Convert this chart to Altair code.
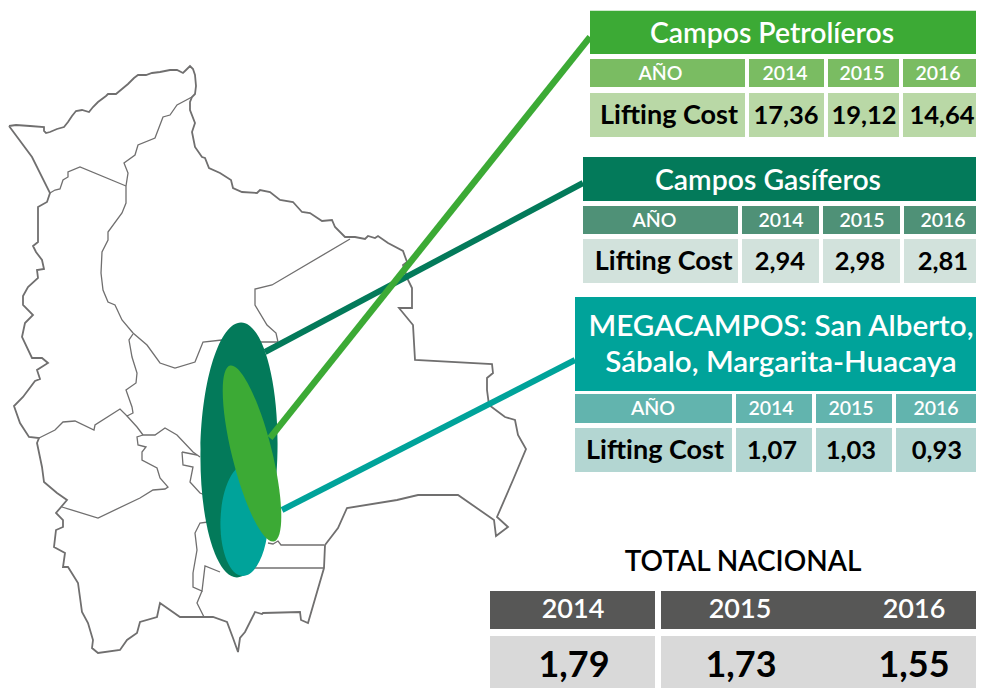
import altair as alt
import pandas as pd

FONT = "Lato"

# ---- map outlines (page pixels) ----
outer = [(9,126),(16,125),(30,126),(44,127),(44,131),(46,133),(50,132),(57,129),(64,127),(68,122),(72,116),(76,111),(82,110),(89,112),(93,107),(98,102),(106,96),(108,94),(116,94),(122,89),(128,84),(134,78),(138,75),(146,75),(152,73),(160,72),(170,70),(177,70),(183,73),(186,70),(190,66),(193,69),(195,75),(196,86),(195,94),(192,97),(190,102),(190,110),(195,123),(192,132),(195,147),(202,157),(205,158),(209,168),(220,173),(231,180),(233,188),(242,192),(257,193),(260,190),(270,192),(280,200),(293,202),(302,212),(310,213),(322,221),(332,220),(335,227),(345,237),(355,237),(365,239),(368,236),(375,238),(378,236),(388,243),(403,251),(407,262),(403,265),(408,280),(412,288),(412,308),(399,308),(413,325),(415,360),(492,364),(493,373),(487,378),(487,390),(489,405),(505,417),(515,420),(518,435),(526,449),(513,480),(497,517),(508,527),(496,536),(494,520),(458,495),(418,495),(397,500),(347,508),(338,528),(325,545),(324,568),(308,623),(301,620),(300,612),(263,613),(262,614),(255,612),(245,632),(240,638),(238,652),(233,638),(227,622),(213,617),(180,617),(160,603),(157,617),(140,622),(137,633),(127,640),(120,650),(98,653),(92,648),(93,640),(88,623),(82,612),(78,583),(68,567),(63,567),(65,553),(54,547),(56,530),(63,527),(63,520),(56,513),(67,500),(57,493),(44,482),(42,467),(37,443),(39,438),(29,437),(20,423),(14,406),(23,397),(35,381),(40,379),(37,370),(48,363),(42,358),(32,358),(22,337),(25,323),(33,315),(23,305),(23,296),(28,287),(38,278),(37,270),(44,269),(42,260),(36,252),(33,246),(38,242),(38,220),(38,207),(47,202),(50,193),(32,157),(9,126)]
inner = [
    [(50,193),(55,190),(60,189),(63,180),(68,177),(68,172),(80,167),(126,186)],
    [(192,97),(177,105),(170,115),(163,117),(155,138),(138,145),(135,155),(124,163),(128,173),(126,186),(126,203),(122,213),(108,232),(108,240),(102,252),(101,273),(103,290),(108,302),(115,305),(122,320),(133,333),(147,345),(160,363),(175,368),(195,362),(203,342),(222,340),(260,342),(278,342)],
    [(350,239),(272,285),(255,289),(255,305),(267,325),(276,333),(278,342)],
    [(133,334),(129,340),(132,357),(137,373),(136,383),(126,390),(132,407),(133,413),(127,416),(120,409),(95,425),(94,430),(75,421),(63,422),(55,430),(39,438)],
    [(127,416),(137,427),(143,435),(155,435),(165,428),(177,435),(193,452),(200,457)],
    [(143,435),(137,437),(138,445),(146,447),(142,452),(142,460),(157,468),(160,478),(168,487),(165,489),(153,490),(140,498),(98,518),(62,507)],
    [(182,452),(197,455)],
    [(182,452),(183,465),(193,467),(190,482),(200,493),(210,497)],
    [(208,522),(200,523),(195,533),(197,550),(193,573),(193,587),(202,591),(205,566),(220,572)],
    [(202,591),(197,603),(204,617)],
    [(247,568),(324,568)],
    [(268,543),(273,544),(278,541),(281,545),(324,545)],
]

# ---- connector lines ----
GREEN, DARK, TEAL = "#3CAA35", "#037A5A", "#00A39A"
connectors = [
    ("dark", DARK, (265,352), (583,183), 6.0),
    ("teal", TEAL, (282,510), (575,360), 6.0),
    ("green", GREEN, (270,438), (590,37), 6.5),
]

# ---- ellipses: name, colour, centre, semi axes, clockwise angle ----
ellipses = [
    ("dark", DARK, 239, 450, 38.5, 127.5, 1),
    ("teal", TEAL, 244.5, 520, 24, 56, 2),
    ("green", GREEN, 252, 453.5, 20, 90.6, 346),
]

# ---- tables ----
years = ["2014", "2015", "2016"]
petro = ["17,36", "19,12", "14,64"]
gas = ["2,94", "2,98", "2,81"]
mega = ["1,07", "1,03", "0,93"]
nacional = ["1,79", "1,73", "1,55"]

rects, texts = [], []
def rect(x, x2, y, y2, c):
    rects.append(dict(x=x, x2=x2, y=y, y2=y2, c=c))
def text(s, x, y, c, size, w=600, dy=1):
    texts.append(dict(s=s, x=x, y=y + dy, c=c, size=size, w=w))

def table(head, sub, val, columns, xhead, yhead, ysub, yval, titles, tsize, lab_x, year_x, val_x, yy, vy, values):
    rect(xhead[0], xhead[1], yhead[0], yhead[1], head)
    for (a, b) in columns:
        rect(a, b, ysub[0], ysub[1], sub)
        rect(a, b, yval[0], yval[1], val)
    for (s, x, y) in titles:
        text(s, x, y, "#ffffff", tsize, dy=2)
    text("AÑO", lab_x[0], yy, "#ffffff", 19.5)
    text("Lifting Cost", lab_x[1], vy, "#000000", 27, w=700)
    for i in range(3):
        text(years[i], year_x[i], yy, "#ffffff", 19.5)
        text(values[i], val_x[i], vy, "#000000", 25.5, w=700)

table(GREEN, "#7ABC62", "#B9D8A6",
      [(590,745),(749,824),(828,899),(903,981.5)], (590,981.5), (10.7,54), (59,87), (93,137),
      [("Campos Petrolíeros",772,32)], 28.4, (660.5,669), (785,862,938), (786,864,942), 73, 115, petro)
table(DARK, "#4F9177", "#D2E2DC",
      [(583,738),(742,819),(823,900),(904,982)], (583,982), (157,201), (206,234), (239,283),
      [("Campos Gasíferos",768,179)], 28.4, (654.5,663.7), (781,862,943), (780,860,943), 219.5, 261, gas)
table(TEAL, "#62B4AE", "#B3D6D2",
      [(575,732),(736,812),(816,892),(896,981)], (575,981), (297,391), (394,423), (428,472),
      [("MEGACAMPOS: San Alberto,",781,325),("Sábalo, Margarita-Huacaya",781,361)], 29.6,
      (653,655), (771,851,936), (772,851,937), 408, 450, mega)

rect(490,655,591,629,"#575756"); rect(661,984,591,629,"#575756")
rect(490,655,636,688,"#D9D9D9"); rect(661,984,636,688,"#D9D9D9")
text("TOTAL NACIONAL",743,562,"#000000",28)
for i, (xa, xb) in enumerate([(573,574),(740,741),(914,914)]):
    text(years[i], xa, 609, "#ffffff", 27)
    text(nacional[i], xb, 665, "#000000", 36, w=700)

# ---- frames ----
rows = []
for i, (x, y) in enumerate(outer):
    rows.append(dict(p="outer", o=i, x=x, y=y))
map_outer = pd.DataFrame(rows)
rows = []
for k, path in enumerate(inner):
    for i, (x, y) in enumerate(path):
        rows.append(dict(p=f"i{k}", o=i, x=x, y=y))
map_inner = pd.DataFrame(rows)

X = alt.X("x:Q", scale=alt.Scale(domain=[8, 976], nice=False, zero=False), axis=None)
Y = alt.Y("y:Q", scale=alt.Scale(domain=[688, 8], nice=False, zero=False), axis=None)

layers = [
    alt.Chart(map_inner).mark_line(stroke="#706F6F", strokeWidth=1.3).encode(X, Y, detail="p:N", order="o:Q"),
    alt.Chart(map_outer).mark_line(stroke="#706F6F", strokeWidth=1.8).encode(X, Y, detail="p:N", order="o:Q"),
]

def conn(c):
    d = pd.DataFrame([dict(o=0, x=c[2][0], y=c[2][1]), dict(o=1, x=c[3][0], y=c[3][1])])
    return alt.Chart(d).mark_line(stroke=c[1], strokeWidth=c[4]).encode(X, Y, order="o:Q")

def ell(e):
    a, b = e[4], e[5]
    shape = f"M0,{-b} A{a},{b} 0 1,1 0,{b} A{a},{b} 0 1,1 0,{-b} Z"
    d = pd.DataFrame([dict(x=e[2], y=e[3])])
    return alt.Chart(d).mark_point(shape=shape, size=4, filled=True, fill=e[1], opacity=1,
                                   stroke=None, angle=e[6]).encode(X, Y)

layers += [conn(connectors[0]), conn(connectors[1]), ell(ellipses[0]), ell(ellipses[1]),
           conn(connectors[2]), ell(ellipses[2])]

rd = pd.DataFrame(rects)
layers.append(alt.Chart(rd).mark_rect().encode(X, Y, x2="x2:Q", y2="y2:Q",
              color=alt.Color("c:N", scale=None)))

td = pd.DataFrame(texts)
for (size, w), g in td.groupby(["size", "w"]):
    layers.append(alt.Chart(g).mark_text(font=FONT, fontSize=float(size), fontWeight=int(w),
                                         align="center", baseline="middle")
                  .encode(X, Y, text="s:N", color=alt.Color("c:N", scale=None)))

chart = alt.layer(*layers).properties(
    width=968, height=680, padding=0, background="#ffffff",
    autosize=alt.AutoSizeParams(type="none"),
).configure_view(stroke=None)

chart.save("out.html", embed_options={"renderer": "svg", "actions": False})
